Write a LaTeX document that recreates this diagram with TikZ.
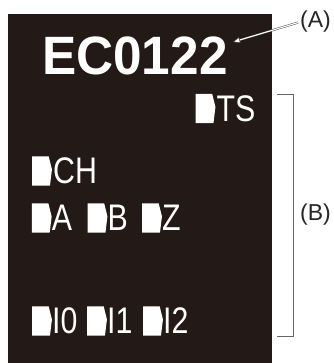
\documentclass[tikz,border=0pt]{standalone}
\usepackage{fontspec}
\setmainfont{Liberation Sans}
\newfontfamily\idfont[FakeStretch=0.95]{Liberation Sans}
\newfontfamily\lcdfont[FakeStretch=0.82]{Liberation Sans}
\usepackage{tikz}
\usetikzlibrary{arrows.meta, positioning}
\definecolor{panelbg}{RGB}{35,25,22}

\begin{document}
\begin{tikzpicture}[
    x=1pt, y=-1pt,
    panel/.style={rectangle, fill=panelbg, inner sep=0pt, minimum width=264pt, minimum height=349pt, anchor=north west},
    idtext/.style={text=white, font=\idfont\bfseries\fontsize{54}{60}\selectfont, inner sep=0pt, anchor=base west},
    marker/.style={rectangle, inner sep=0pt, minimum width=19.5pt, minimum height=29pt,
        append after command={\pgfextra{\fill[white] (\tikzlastnode.north west) -- ([xshift=-3.3pt]\tikzlastnode.north east)
            -- ([yshift=1.5pt]\tikzlastnode.east) -- ([xshift=-2pt]\tikzlastnode.south east) -- (\tikzlastnode.south west) -- cycle;}}},
    lcdtext/.style={text=white, font=\lcdfont\fontsize{37}{40}\selectfont, inner sep=0pt},
    callout/.style={font=\fontsize{23}{26}\selectfont, text=black!85, inner sep=0pt, anchor=west},
    pointer/.style={draw=black!80, double=white, double distance=1.2pt, line width=0.4pt, shorten <=2pt, -{Triangle[fill=white, length=7pt, width=6pt]}},
    bracket/.style={draw=black!60, line width=0.8pt}
]
\useasboundingbox (0,0) rectangle (333,363);

% Display panel
\node[panel] (panel) at (8,14) {};
\node[idtext] (model) at (42,75) {EC0122};

% Status indicators
\node[marker] (mts) at (205.5,108.5) {};
\node[lcdtext, right=1pt of mts] (ts) {TS};

\node[marker] (mch) at (42,171) {};
\node[lcdtext, right=1pt of mch] (ch) {CH};

\node[marker] (ma) at (41.7,218) {};
\node[lcdtext, right=0pt of ma] (a) {A};
\node[marker] (mb) at (97.5,218) {};
\node[lcdtext, right=0pt of mb] (b) {B};
\node[marker] (mz) at (152,218) {};
\node[lcdtext, right=0pt of mz] (z) {Z};

\node[marker] (mi0) at (42,321) {};
\node[lcdtext, right=0pt of mi0] (i0) {I0};
\node[marker] (mi1) at (97,321) {};
\node[lcdtext, right=0pt of mi1] (i1) {I1};
\node[marker] (mi2) at (153,321) {};
\node[lcdtext, right=0pt of mi2] (i2) {I2};

% Callouts
\node[callout] (lblA) at (300,22) {(A)};
\coordinate (tipA) at (233,42);
\draw[pointer] (lblA.west) -- (tipA);

\node[callout] (lblB) at (300,215) {(B)};
\coordinate (btop) at (277,94);
\coordinate (bbot) at (277,336);
\draw[bracket] (btop) -- ++(16,0) -- ++(0,242) -- (bbot);

\end{tikzpicture}
\end{document}
